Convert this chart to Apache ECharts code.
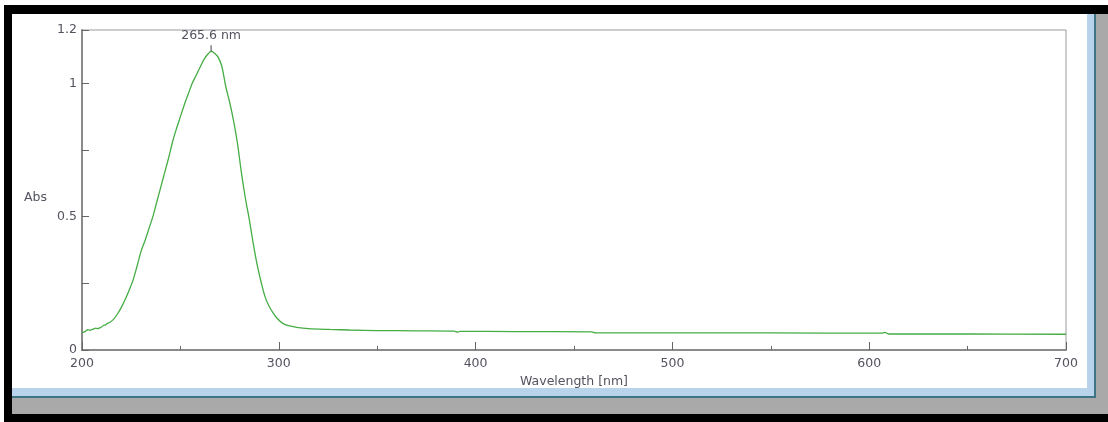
<!DOCTYPE html>
<html>
<head>
<meta charset="utf-8">
<script src="https://cdn.jsdelivr.net/npm/echarts@6/dist/echarts.min.js"></script>
<style>
html,body{margin:0;padding:0;background:#fff;}
#chart{width:1108px;height:422px;}
</style>
</head>
<body>
<div id="chart"></div>
<script>
// Data
var wavelengths = [200,201.5,203,204,205,206,207,208,209,210,211,212,213,214,216,218,220,222,224,226,228,230,232,234,236,238,240,242,244,246,248,250,252,254,256,258,260,262,264,265.6,267,269,271,273,275,277,279,281,283,285,287,289,291,293,295,297,299,302,305,309,315,326,336,350,370,389,391,392,420,459,461,500,550,606,608,610,650,700];
var absorbance  = [0.065,0.069,0.076,0.074,0.076,0.079,0.082,0.080,0.083,0.086,0.093,0.094,0.100,0.103,0.115,0.135,0.160,0.190,0.225,0.263,0.315,0.370,0.410,0.455,0.500,0.555,0.610,0.665,0.720,0.780,0.830,0.875,0.920,0.960,1.000,1.030,1.060,1.090,1.110,1.120,1.115,1.100,1.065,0.990,0.930,0.860,0.775,0.665,0.570,0.490,0.400,0.320,0.255,0.200,0.165,0.140,0.120,0.100,0.091,0.085,0.080,0.077,0.075,0.073,0.072,0.071,0.067,0.070,0.069,0.068,0.064,0.064,0.064,0.063,0.066,0.060,0.060,0.059];
var xTickLabels = [200,300,400,500,600,700];
var yTickLabels = [0,0.5,1,1.2];
var peakLabel = '265.6 nm';
var peakPoint = [265.6, 1.12];
var xAxisTitle = 'Wavelength [nm]';
var yAxisTitle = 'Abs';

var seriesData = wavelengths.map(function(w,i){return [w, absorbance[i]];});
var chart = echarts.init(document.getElementById('chart'), null, {renderer:'canvas'});
var fontFam = '"DejaVu Sans", "Liberation Sans", sans-serif';
var labelColor = '#52535f';
var fs = 12.5;

chart.setOption({
  animation:false,
  backgroundColor:'#ffffff',
  grid:{left:82,right:42,top:30,bottom:72,show:true,borderColor:'#9a9a9a',borderWidth:1,backgroundColor:'#fff'},
  xAxis:{
    type:'value',min:200,max:700,interval:100,
    name:xAxisTitle,nameLocation:'middle',nameGap:22,
    nameTextStyle:{fontFamily:fontFam,fontSize:fs,color:labelColor},
    axisLine:{show:true,onZero:false,lineStyle:{color:'#8a8a8a',width:2}},
    axisTick:{show:true,inside:true,length:8,lineStyle:{color:'#666',width:1}},
    minorTick:{show:true,splitNumber:2,length:4,lineStyle:{color:'#666',width:1}},
    splitLine:{show:false},
    axisLabel:{margin:7,fontFamily:fontFam,fontSize:fs,color:labelColor,
      formatter:function(v){return xTickLabels.indexOf(v)>=0?String(v):'';}}
  },
  yAxis:{
    type:'value',min:0,max:1.2,interval:0.25,
    axisLine:{show:true,onZero:false,lineStyle:{color:'#8a8a8a',width:2}},
    axisTick:{show:true,inside:true,length:7,lineStyle:{color:'#666',width:1}},
    splitLine:{show:false},
    axisLabel:{margin:5,fontFamily:fontFam,fontSize:fs,color:labelColor,
      formatter:function(v){var r=Math.round(v*100)/100;return yTickLabels.indexOf(r)>=0?String(r):'';}}
  },
  graphic:[
    {type:'rect',shape:{x:4,y:5,width:1104,height:9},style:{fill:'#000'},z:100},
    {type:'rect',shape:{x:4,y:5,width:8,height:417},style:{fill:'#000'},z:100},
    {type:'rect',shape:{x:12,y:388,width:1084,height:10},style:{fill:'#b9d3ea'},z:100},
    {type:'rect',shape:{x:1087,y:14,width:9,height:384},style:{fill:'#b9d3ea'},z:100},
    {type:'rect',shape:{x:12,y:396,width:1084,height:2},style:{fill:'#3e7484'},z:101},
    {type:'rect',shape:{x:1094,y:14,width:2,height:384},style:{fill:'#3e7484'},z:101},
    {type:'rect',shape:{x:12,y:398,width:1096,height:16},style:{fill:'#a9a9a9'},z:100},
    {type:'rect',shape:{x:1096,y:14,width:12,height:400},style:{fill:'#a9a9a9'},z:100},
    {type:'rect',shape:{x:4,y:414,width:1104,height:8},style:{fill:'#000'},z:100},
    {type:'text',left:24,top:191,style:{text:yAxisTitle,font:'12.5px "DejaVu Sans", "Liberation Sans", sans-serif',fill:labelColor},z:100}
  ],
  series:[{
    type:'line',data:seriesData,showSymbol:false,symbol:'none',smooth:0.3,
    lineStyle:{color:'#44ad44',width:1.3},
    markPoint:{
      symbol:'rect',symbolSize:[1,6],symbolOffset:[0,-3],
      itemStyle:{color:'#444'},
      label:{show:true,position:'top',distance:3,formatter:peakLabel,fontFamily:fontFam,fontSize:fs,color:labelColor},
      data:[{coord:peakPoint}]
    }
  }]
});
</script>
</body>
</html>
